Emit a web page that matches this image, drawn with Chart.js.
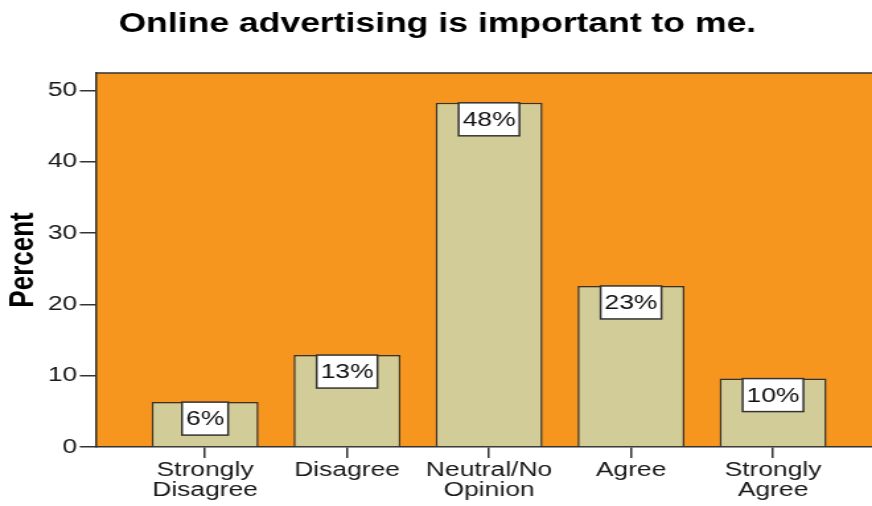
<!DOCTYPE html>
<html>
<head>
<meta charset="utf-8">
<script src="https://cdn.jsdelivr.net/npm/chart.js@4/dist/chart.umd.min.js"></script>
<style>
  html, body { margin: 0; padding: 0; background: #fff; overflow: hidden; }
  /* the chart is laid out narrow, then widened to fill the window */
  #wrap { width: 660px; height: 506px; transform: scaleX(1.3212); transform-origin: 0 0; }
</style>
</head>
<body>
<div id="wrap"><canvas id="myChart" width="660" height="506"></canvas></div>
<script>
const categories = [['Strongly', 'Disagree'], 'Disagree', ['Neutral/No', 'Opinion'], 'Agree', ['Strongly', 'Agree']];
const percents = [6.3, 12.9, 48.3, 22.6, 9.6];
const yTicks = [0, 10, 20, 30, 40, 50];

const FONT = "'Liberation Sans', Arial, sans-serif";
const INK = '#333333';

// orange plot background with a top border line
const plotBackground = {
  id: 'plotBackground',
  beforeDraw(chart) {
    const { ctx, chartArea: a } = chart;
    ctx.save();
    ctx.fillStyle = '#F7961F';
    ctx.fillRect(a.left, a.top, a.right - a.left, a.bottom - a.top);
    ctx.strokeStyle = INK;
    ctx.lineWidth = 1.5;
    ctx.beginPath();
    ctx.moveTo(a.left, a.top);
    ctx.lineTo(a.right, a.top);
    ctx.stroke();
    ctx.restore();
  }
};

// white boxed percent label hanging from the top of each bar
const barLabels = {
  id: 'barLabels',
  afterDatasetsDraw(chart) {
    const { ctx } = chart;
    const meta = chart.getDatasetMeta(0);
    ctx.save();
    ctx.font = '20px ' + FONT;
    ctx.textAlign = 'center';
    ctx.textBaseline = 'middle';
    meta.data.forEach((bar, i) => {
      const text = Math.round(percents[i]) + '%';
      const w = ctx.measureText(text).width + 6;
      const h = 33;
      const x = bar.x - w / 2;
      const y = bar.y;
      ctx.fillStyle = '#ffffff';
      ctx.fillRect(x, y, w, h);
      ctx.strokeStyle = INK;
      ctx.lineWidth = 1.5;
      ctx.strokeRect(x, y, w, h);
      ctx.fillStyle = '#111';
      ctx.fillText(text, bar.x, y + h / 2 + 1);
    });
    ctx.restore();
  }
};

const ctx = document.getElementById('myChart').getContext('2d');
new Chart(ctx, {
  type: 'bar',
  data: {
    datasets: [{
      data: percents.map((v, i) => ({ x: i, y: v })),
      backgroundColor: '#D2CD98',
      borderColor: INK,
      borderWidth: 1.5,
      categoryPercentage: 1,
      barPercentage: 0.753
    }]
  },
  options: {
    responsive: false,
    animation: false,
    layout: { padding: { left: 2, right: 0, top: 0, bottom: 0 } },
    scales: {
      x: {
        type: 'linear',
        offset: false,
        min: -0.765,
        max: 4.697,
        afterBuildTicks: s => { s.ticks = categories.map((c, i) => ({ value: i })); },
        afterFit: s => { s.height = 59; },
        grid: { offset: false, drawOnChartArea: false, drawTicks: true, tickLength: 11, color: INK, lineWidth: 1.5 },
        border: { display: true, color: INK, width: 1.5 },
        ticks: {
          callback: v => categories[v],
          autoSkip: false,
          maxRotation: 0,
          padding: 2,
          color: '#1a1a1a',
          font: { family: FONT, size: 20, lineHeight: 1.03 }
        }
      },
      y: {
        min: 0,
        max: 52.5,
        afterBuildTicks: s => { s.ticks = yTicks.map(v => ({ value: v })); },
        afterFit: s => { s.width = 71; },
        grid: { drawOnChartArea: false, drawTicks: true, tickLength: 12.6, color: INK, lineWidth: 1.5 },
        border: { display: true, color: INK, width: 1.5 },
        ticks: {
          padding: 2,
          color: '#1a1a1a',
          font: { family: FONT, size: 20 }
        },
        title: {
          display: true,
          text: 'Percent',
          color: '#000',
          padding: { top: 0, bottom: 0 },
          font: { family: FONT, size: 26, weight: 'bold' }
        }
      }
    },
    plugins: {
      legend: { display: false },
      tooltip: { enabled: false },
      title: {
        display: true,
        text: 'Online advertising is important to me.',
        color: '#000',
        padding: { top: 8, bottom: 32.6 },
        font: { family: FONT, size: 26.9, weight: 'bold' }
      }
    }
  },
  plugins: [plotBackground, barLabels]
});
</script>
</body>
</html>
